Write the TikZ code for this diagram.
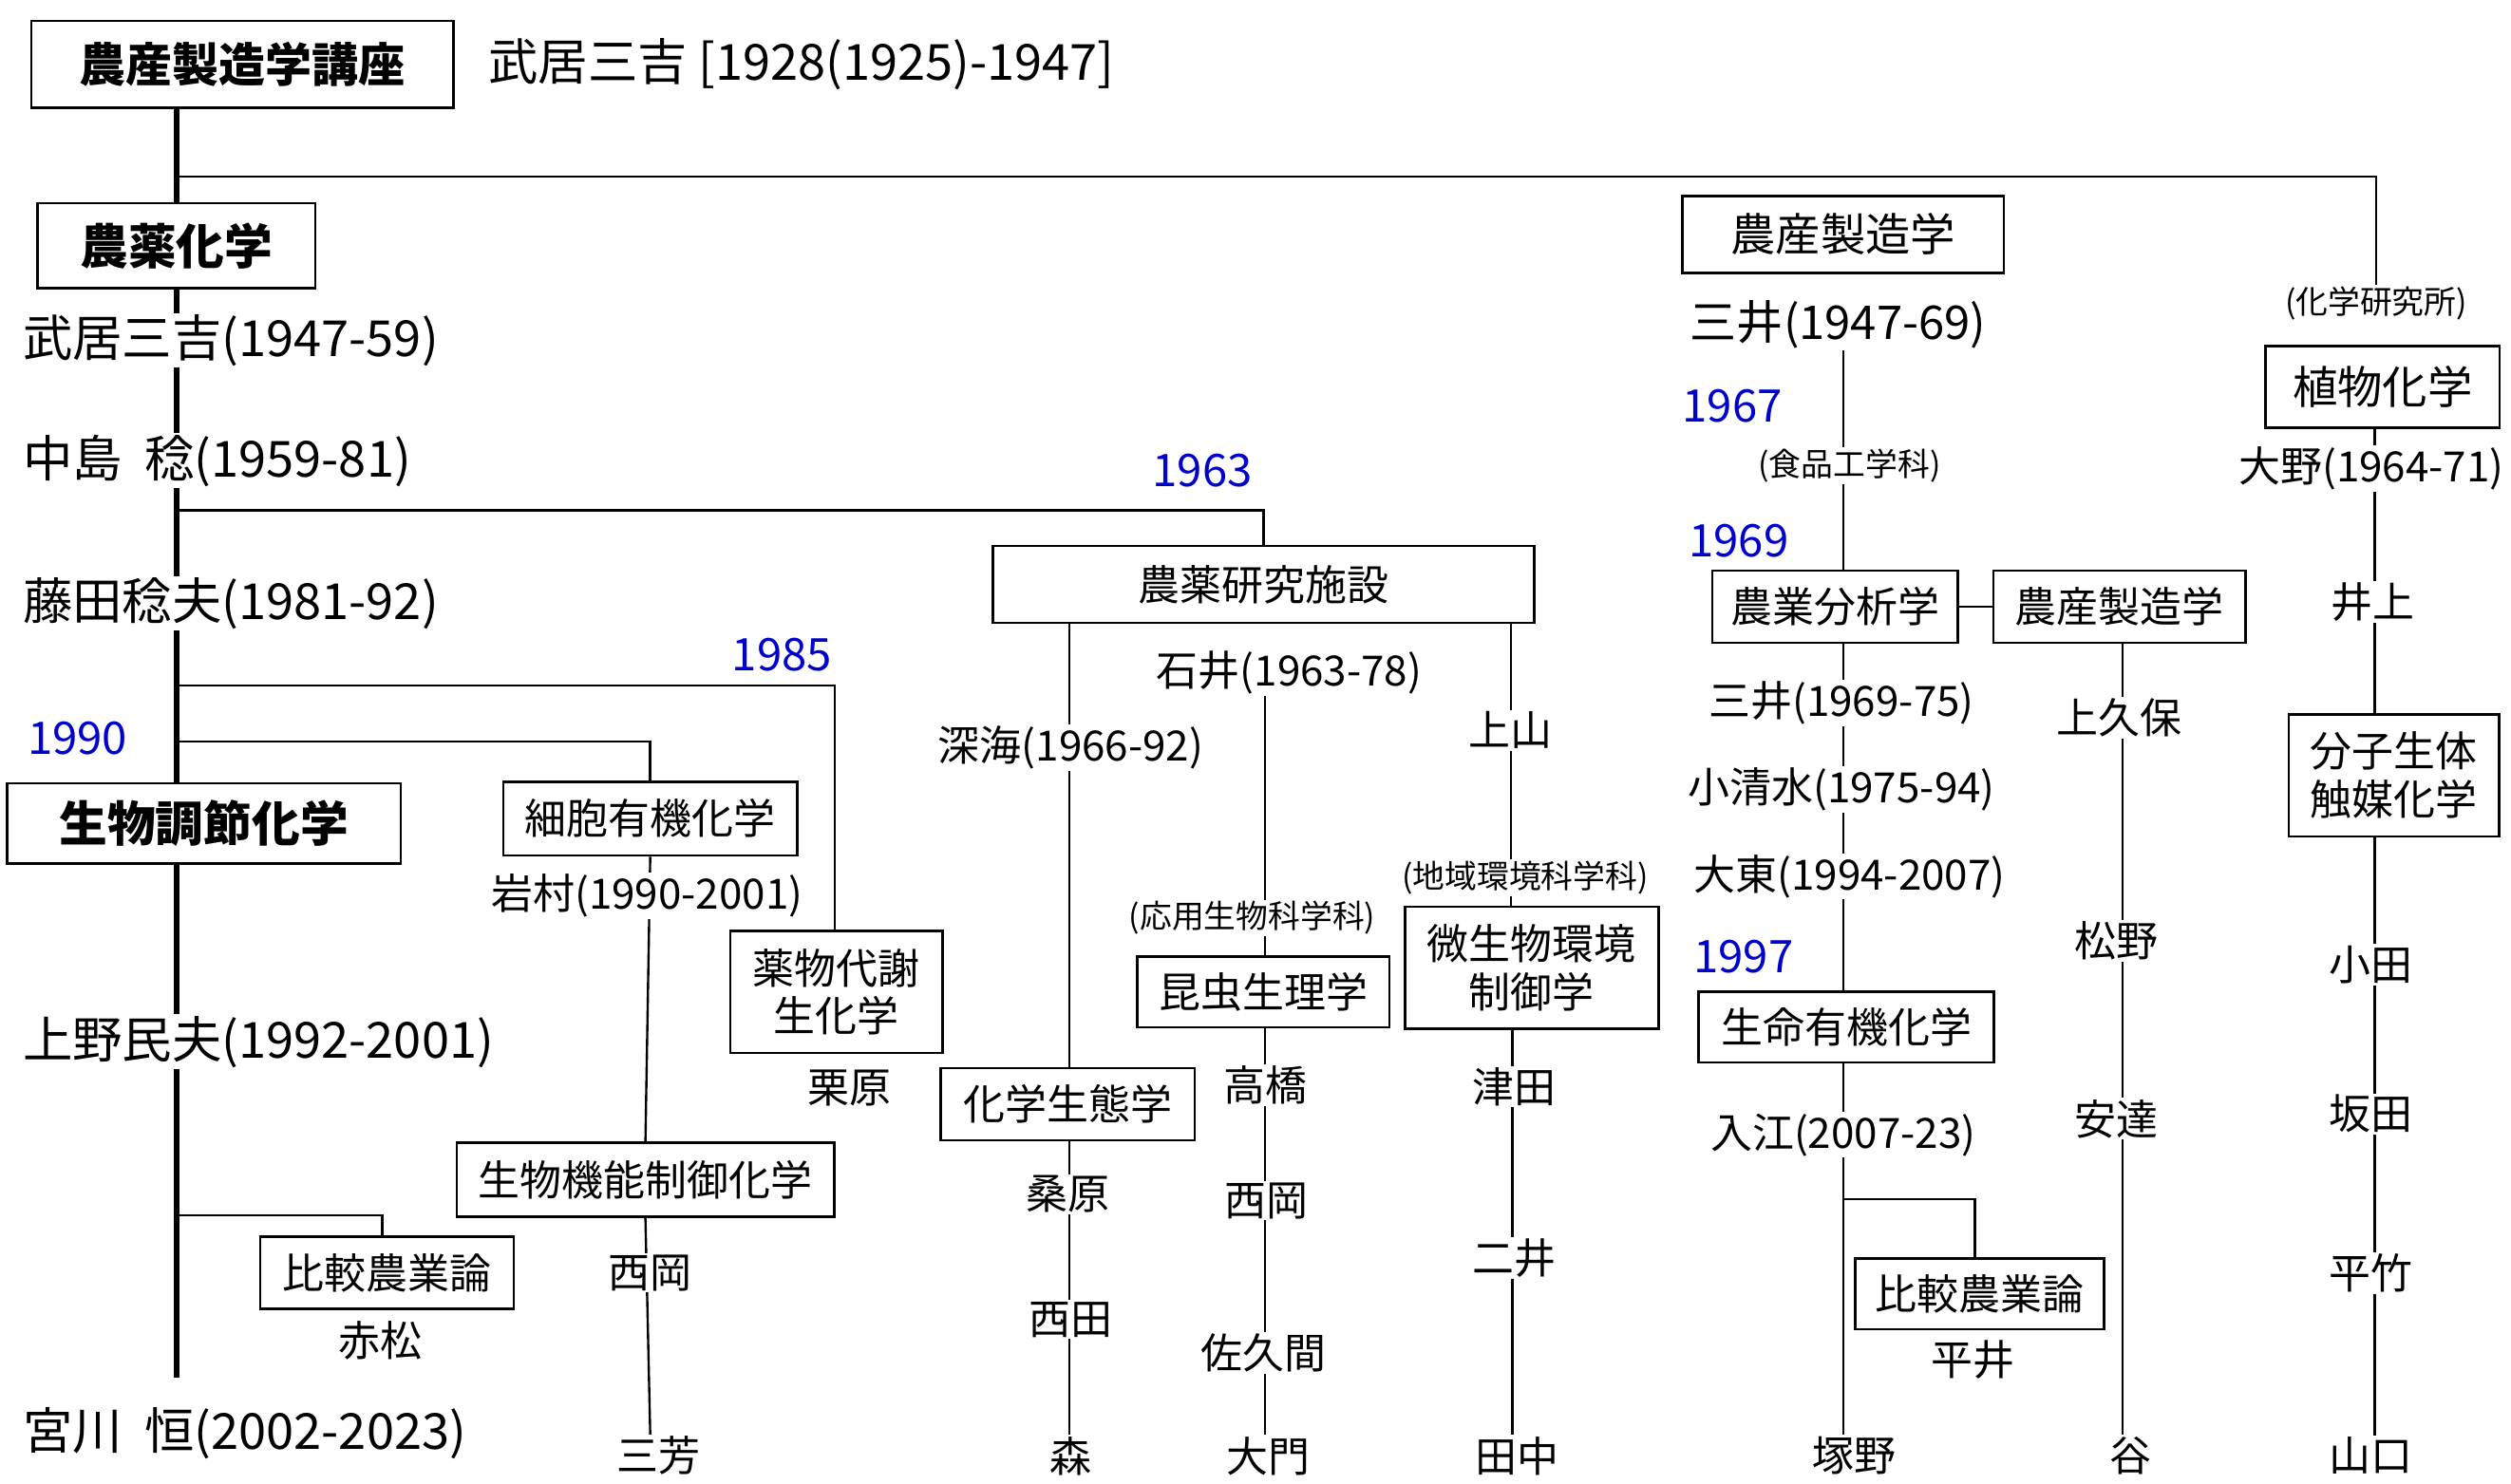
\documentclass[tikz,border=0pt]{standalone}
\usepackage{fontspec}
\setmainfont{Noto Sans CJK JP}
\usetikzlibrary{backgrounds}
\begin{document}
\begin{tikzpicture}[x=1pt,y=-1pt,
  t/.style={fill=white,inner sep=1pt,font=\fontsize{26}{28}\selectfont},
  big/.style={fill=white,inner sep=1pt,font=\fontsize{31}{34}\selectfont,anchor=west},
  sm/.style={fill=white,inner sep=1pt,font=\fontsize{20}{22}\selectfont},
  yr/.style={text=blue!80!black,inner sep=1pt,font=\fontsize{28}{30}\selectfont},
  bx/.style={draw,line width=1.5pt,fill=white,inner sep=0pt,align=center,font=\fontsize{26}{30}\selectfont},
  ln/.style={line width=1.4pt},
  thk/.style={line width=4pt}]
\useasboundingbox (0,0) rectangle (1564,924);
% boxes
\node[bx,minimum width=263,minimum height=54,font=\bfseries\fontsize{29}{32}\selectfont] (root) at (151,40) {農産製造学講座};
\node[big] (rootname) at (303,40) {武居三吉 [1928(1925)-1947]};
\node[bx,minimum width=173,minimum height=53,font=\bfseries\fontsize{30}{32}\selectfont] (nyk) at (110,153) {農薬化学};
\node[big] (p1) at (13,212) {武居三吉(1947-59)};
\node[big] (p2) at (13,287) {中島\ \ 稔(1959-81)};
\node[big] (p3) at (13,376) {藤田稔夫(1981-92)};
\node[big] (p4) at (13,649) {上野民夫(1992-2001)};
\node[big] (p5) at (13,893) {宮川\ \ 恒(2002-2023)};
\node[yr,anchor=west] (y1990) at (16,460) {1990};
\node[bx,minimum width=245,minimum height=50,font=\bfseries\fontsize{30}{32}\selectfont] (sbc) at (127,513) {生物調節化学};
\node[yr] (y1963) at (749,293) {1963};
\node[yr] (y1985) at (487,408) {1985};
% 1985 / 1990 branches
\node[bx,minimum width=183,minimum height=46] (saibo) at (405,510) {細胞有機化学};
\node[t] (iwamura) at (403,558) {岩村(1990-2001)};
\node[bx,minimum width=235,minimum height=46] (seibutsu) at (402,735) {生物機能制御化学};
\node[t] (nishioka1) at (405,793) {西岡};
\node[t] (miyoshi) at (410,907) {三芳};
\node[bx,minimum width=132,minimum height=76,font=\fontsize{26}{30}\selectfont] (yakubutsu) at (521,618) {薬物代謝\\生化学};
\node[t] (kurihara) at (529,678) {栗原};
\node[bx,minimum width=158,minimum height=45] (hikaku1) at (241,793) {比較農業論};
\node[t] (akamatsu) at (237,835) {赤松};
% 農薬研究施設
\node[bx,minimum width=337,minimum height=48] (shisetsu) at (787,364) {農薬研究施設};
\node[t] (fukami) at (667,466) {深海(1966-92)};
\node[bx,minimum width=158,minimum height=45] (seitai) at (665,688) {化学生態学};
\node[t] (kuwahara) at (665,744) {桑原};
\node[t] (nishida) at (667,822) {西田};
\node[t] (mori) at (667,907) {森};
\node[t] (ishii) at (803,419) {石井(1963-78)};
\node[sm] (ouyou) at (780,572) {(応用生物科学科)};
\node[bx,minimum width=157,minimum height=44] (konchu) at (787,618) {昆虫生理学};
\node[t] (takahashi) at (788,676) {高橋};
\node[t] (nishioka2) at (789,748) {西岡};
\node[t] (sakuma) at (787,843) {佐久間};
\node[t] (daimon) at (790,907) {大門};
\node[t] (ueyama) at (941,455) {上山};
\node[sm] (chiiki) at (950,547) {(地域環境科学科)};
\node[bx,minimum width=158,minimum height=76,font=\fontsize{26}{30}\selectfont] (biseibutsu) at (954,603) {微生物環境\\制御学};
\node[t] (tsuda) at (943,677) {津田};
\node[t] (futai) at (943,784) {二井};
\node[t] (tanaka) at (945,907) {田中};
% 農産製造学
\node[bx,minimum width=200,minimum height=48,font=\fontsize{28}{30}\selectfont] (nousan) at (1148,146) {農産製造学};
\node[t,font=\fontsize{29}{30}\selectfont] (mitsui1) at (1145,202) {三井(1947-69)};
\node[yr] (y1967) at (1079,253) {1967};
\node[sm] (shokuhin) at (1152,290) {(食品工学科)};
\node[yr] (y1969) at (1083,337) {1969};
\node[bx,minimum width=153,minimum height=45] (bunseki) at (1143,378) {農業分析学};
\node[bx,minimum width=157,minimum height=45] (nousan2) at (1320,378) {農産製造学};
\node[t] (mitsui2) at (1147,438) {三井(1969-75)};
\node[t] (koshimizu) at (1147,492) {小清水(1975-94)};
\node[t] (daito) at (1152,546) {大東(1994-2007)};
\node[yr] (y1997) at (1086,596) {1997};
\node[bx,minimum width=184,minimum height=44] (seimei) at (1150,640) {生命有機化学};
\node[t] (irie) at (1148,707) {入江(2007-23)};
\node[bx,minimum width=155,minimum height=44] (hikaku2) at (1233,806) {比較農業論};
\node[t] (hirai) at (1229,847) {平井};
\node[t] (tsukano) at (1155,907) {塚野};
\node[t] (kamikubo) at (1320,447) {上久保};
\node[t] (matsuno) at (1318,586) {松野};
\node[t] (adachi) at (1318,697) {安達};
\node[t] (tani) at (1327,907) {谷};
% 化学研究所
\node[sm] (kaken) at (1480,189) {(化学研究所)};
\node[bx,minimum width=146,minimum height=51,font=\fontsize{28}{30}\selectfont] (shokubutsu) at (1484,241) {植物化学};
\node[t] (ono) at (1477,292) {大野(1964-71)};
\node[t] (inoue) at (1478,375) {井上};
\node[bx,minimum width=131,minimum height=76,font=\fontsize{26}{30}\selectfont] (bunshi) at (1491,483) {分子生体\\触媒化学};
\node[t] (oda) at (1477,601) {小田};
\node[t] (sakata) at (1477,694) {坂田};
\node[t] (hiratake) at (1477,793) {平竹};
\node[t] (yamaguchi) at (1477,907) {山口};
\coordinate (mainend) at (110,858);
\begin{scope}[on background layer]
\draw[thk] (root.south -| 110,0) -- (mainend);
\draw[ln] (110,110) -| (kaken.north -| 1480,0);
\draw[ln] (110,318) -| (shisetsu.north);
\draw[ln] (110,427) -| (yakubutsu.north -| 520,0);
\draw[ln] (110,462) -| (saibo.north);
\draw[ln] (110,757) -| (hikaku1.north -| 238,0);
\draw[ln] (saibo.south) -- (seibutsu.north);
\draw[ln] (seibutsu.south) -- (miyoshi.north -| 405,0);
\draw[ln] (shisetsu.south -| 666,0) -- (mori.north -| 666,0);
\draw[ln] (ishii.south -| 788,0) -- (daimon.north -| 788,0);
\draw[ln] (shisetsu.south -| 941,0) -- (biseibutsu.north -| 941,0);
\draw[ln] (biseibutsu.south -| 942,0) -- (tanaka.north -| 942,0);
\draw[ln] (mitsui1.south -| 1148,0) -- (bunseki.north -| 1148,0);
\draw[ln] (bunseki.south -| 1148,0) -- (tsukano.north -| 1148,0);
\draw[ln] (1148,747) -| (hikaku2.north -| 1230,0);
\draw[ln] (bunseki.east) -- (nousan2.west);
\draw[ln] (nousan2.south -| 1322,0) -- (tani.north -| 1322,0);
\draw[ln] (shokubutsu.south -| 1479,0) -- (yamaguchi.north -| 1479,0);
\end{scope}
\end{tikzpicture}
\end{document}
